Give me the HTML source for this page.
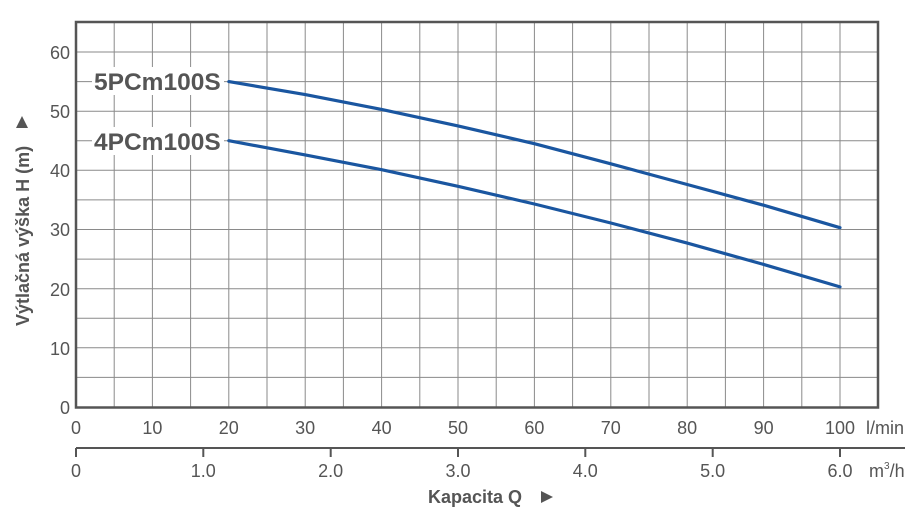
<!DOCTYPE html>
<html><head><meta charset="utf-8"><style>
html,body{margin:0;padding:0;background:#fff;}
svg{display:block;font-family:"Liberation Sans",Arial,sans-serif;}
</style></head><body>
<svg width="924" height="513" viewBox="0 0 924 513" xmlns="http://www.w3.org/2000/svg">
<g stroke="#8a8a8a" stroke-width="1">
<line x1="114.2" y1="22" x2="114.2" y2="407"/><line x1="152.4" y1="22" x2="152.4" y2="407"/><line x1="190.6" y1="22" x2="190.6" y2="407"/><line x1="228.8" y1="22" x2="228.8" y2="407"/><line x1="267" y1="22" x2="267" y2="407"/><line x1="305.2" y1="22" x2="305.2" y2="407"/><line x1="343.4" y1="22" x2="343.4" y2="407"/><line x1="381.6" y1="22" x2="381.6" y2="407"/><line x1="419.8" y1="22" x2="419.8" y2="407"/><line x1="458" y1="22" x2="458" y2="407"/><line x1="496.2" y1="22" x2="496.2" y2="407"/><line x1="534.4" y1="22" x2="534.4" y2="407"/><line x1="572.6" y1="22" x2="572.6" y2="407"/><line x1="610.8" y1="22" x2="610.8" y2="407"/><line x1="649" y1="22" x2="649" y2="407"/><line x1="687.2" y1="22" x2="687.2" y2="407"/><line x1="725.4" y1="22" x2="725.4" y2="407"/><line x1="763.6" y1="22" x2="763.6" y2="407"/><line x1="801.8" y1="22" x2="801.8" y2="407"/><line x1="840" y1="22" x2="840" y2="407"/>
<line x1="76" y1="377.4" x2="878" y2="377.4"/><line x1="76" y1="347.8" x2="878" y2="347.8"/><line x1="76" y1="318.3" x2="878" y2="318.3"/><line x1="76" y1="288.7" x2="878" y2="288.7"/><line x1="76" y1="259.1" x2="878" y2="259.1"/><line x1="76" y1="229.5" x2="878" y2="229.5"/><line x1="76" y1="199.9" x2="878" y2="199.9"/><line x1="76" y1="170.3" x2="878" y2="170.3"/><line x1="76" y1="140.8" x2="878" y2="140.8"/><line x1="76" y1="111.2" x2="878" y2="111.2"/><line x1="76" y1="81.6" x2="878" y2="81.6"/><line x1="76" y1="52" x2="878" y2="52"/>
</g>
<rect x="76" y="22" width="802" height="385.5" fill="none" stroke="#555" stroke-width="2.5"/>
<g fill="#fff">
<rect x="92" y="67" width="132" height="28"/>
<rect x="92" y="127" width="132" height="28"/>
</g>
<g fill="none" stroke="#1a56a0" stroke-width="3.2" stroke-linejoin="round" stroke-linecap="round">
<polyline points="228.8,81.6 305.2,94.6 381.6,109.4 458,125.9 534.4,143.7 610.8,163.8 687.2,184.5 763.6,205.2 840,227.7"/>
<polyline points="228.8,140.7 305.2,154.9 381.6,169.7 458,186.3 534.4,204 610.8,223 687.2,243.1 763.6,264.4 840,286.9"/>
</g>
<g fill="#555" font-size="24.5" font-weight="bold">
<text x="94" y="90">5PCm100S</text>
<text x="94" y="150">4PCm100S</text>
</g>
<g fill="#555" font-size="18" text-anchor="end">
<text x="70" y="59">60</text><text x="70" y="118">50</text><text x="70" y="177">40</text><text x="70" y="236">30</text><text x="70" y="296">20</text><text x="70" y="355">10</text><text x="70" y="414">0</text>
</g>
<g fill="#555" font-size="18" text-anchor="middle">
<text x="76" y="434">0</text><text x="152.4" y="434">10</text><text x="228.8" y="434">20</text><text x="305.2" y="434">30</text><text x="381.6" y="434">40</text><text x="458" y="434">50</text><text x="534.4" y="434">60</text><text x="610.8" y="434">70</text><text x="687.2" y="434">80</text><text x="763.6" y="434">90</text><text x="840" y="434">100</text>
<text x="76" y="477">0</text><text x="203.3" y="477">1.0</text><text x="330.7" y="477">2.0</text><text x="458" y="477">3.0</text><text x="585.3" y="477">4.0</text><text x="712.7" y="477">5.0</text><text x="840" y="477">6.0</text>
</g>
<text x="866" y="434" fill="#555" font-size="18">l/min</text>
<text x="869" y="477" fill="#555" font-size="18">m<tspan font-size="10" dy="-8">3</tspan><tspan dy="8">/h</tspan></text>
<line x1="76" y1="448" x2="905" y2="448" stroke="#555" stroke-width="2"/>
<g stroke="#555" stroke-width="2">
<line x1="76" y1="448" x2="76" y2="457"/><line x1="203.3" y1="448" x2="203.3" y2="457"/><line x1="330.7" y1="448" x2="330.7" y2="457"/><line x1="458" y1="448" x2="458" y2="457"/><line x1="585.3" y1="448" x2="585.3" y2="457"/><line x1="712.7" y1="448" x2="712.7" y2="457"/><line x1="840" y1="448" x2="840" y2="457"/>
</g>
<text x="428" y="503" fill="#555" font-size="18" font-weight="bold">Kapacita Q</text>
<path d="M541,491 L553,497 L541,503 Z" fill="#555"/>
<text transform="translate(29,326) rotate(-90)" fill="#555" font-size="18" font-weight="bold">Výtlačná výška H (m)</text>
<path d="M16,128 L22,116 L28,128 Z" fill="#555"/>
</svg>
</body></html>
